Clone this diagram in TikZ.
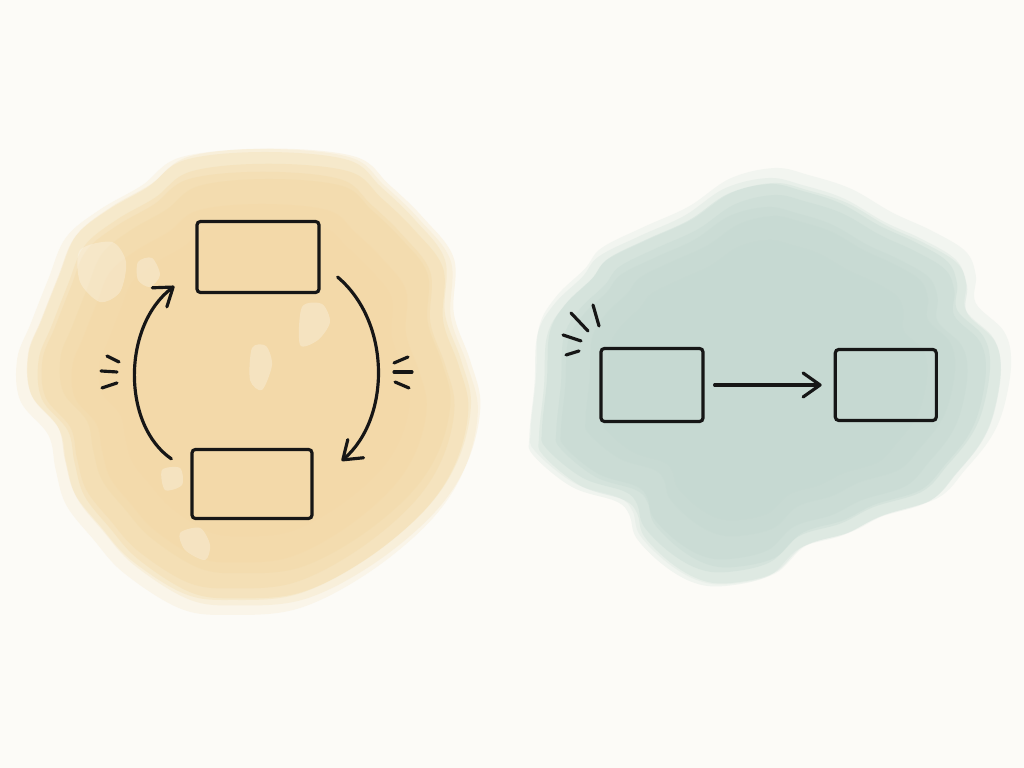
\documentclass[tikz,border=0pt]{standalone}
\usepackage{tikz}
\usetikzlibrary{arrows.meta,positioning,calc}
\definecolor{paper}{HTML}{FCFBF7}
\definecolor{sandcore}{HTML}{F3D8A2}
\definecolor{sagecore}{HTML}{C2D8D0}
\definecolor{ink}{HTML}{161616}

\begin{document}
\begin{tikzpicture}[
    x=0.01cm, y=-0.01cm,
    box/.style={draw=ink, line width=0.9pt, rounded corners=1pt, inner sep=0pt},
    flow/.style={draw=ink, line width=0.9pt, line cap=round, -{Straight Barb[length=1.7mm,width=2.4mm,round]}},
    tick/.style={draw=ink, line width=0.9pt, line cap=round},
    speck/.style={fill=paper, opacity=0.3}
  ]
    \fill[paper] (0,0) rectangle (1024,768);
    \useasboundingbox (0,0) rectangle (1024,768);

    \foreach \s/\o/\dx/\dy in {1.04/0.16/-4/3, 1.02/0.2/3/-2, 1.0/0.25/-2/-3, 0.97/0.3/2/2,
        0.93/0.3/-3/1, 0.88/0.3/4/-3, 0.8/0.25/-2/4, 0.7/0.2/3/0} {
      \begin{scope}[shift={(252+\dx,380+\dy)}, scale=\s, shift={(-252,-380)}]
        \fill[sandcore, opacity=\o] plot[smooth cycle, tension=0.6] coordinates {
          (150,190) (187,163) (267,155) (350,163) (383,190) (417,223) (447,263)
          (447,317) (463,363) (473,407) (460,463) (427,513) (367,563) (300,597)
          (235,603) (187,597) (133,563) (103,530) (77,497) (67,463) (60,430)
          (33,397) (30,357) (43,323) (60,280) (77,240) (110,213)};
      \end{scope}
    }
    \foreach \s/\o/\dx/\dy in {1.04/0.16/3/-4, 1.02/0.2/-3/2, 1.0/0.25/2/3, 0.97/0.3/-2/-2,
        0.93/0.3/3/1, 0.88/0.3/-4/3, 0.8/0.25/2/-4, 0.7/0.2/-3/0} {
      \begin{scope}[shift={(770+\dx,380+\dy)}, scale=\s, shift={(-770,-380)}]
        \fill[sagecore, opacity=\o] plot[smooth cycle, tension=0.6] coordinates {
          (772,180) (805,187) (845,200) (885,223) (922,240) (955,260) (965,283)
          (965,310) (992,337) (999,367) (992,410) (979,440) (955,470) (929,497)
          (879,513) (845,530) (802,543) (772,570) (729,580) (699,577) (669,560)
          (642,533) (635,510) (622,497) (579,483) (541,452) (537,433) (542,383)
          (545,333) (562,303) (589,277) (605,257) (645,237) (689,217) (729,190)};
      \end{scope}
    }

    \fill[speck] plot[smooth cycle] coordinates {(80,250) (112,242) (126,262) (120,292) (100,302) (80,282)};
    \fill[speck] plot[smooth cycle] coordinates {(138,262) (152,258) (160,275) (150,287) (138,280)};
    \fill[speck] plot[smooth cycle] coordinates {(302,307) (322,304) (330,322) (318,340) (300,345)};
    \fill[speck] plot[smooth cycle] coordinates {(252,348) (266,346) (272,365) (262,390) (250,380)};
    \fill[speck] plot[smooth cycle] coordinates {(180,533) (200,528) (210,545) (205,560) (185,550)};
    \fill[speck] plot[smooth cycle] coordinates {(162,470) (180,468) (182,485) (165,490)};

    \node[box, minimum width=12.2mm, minimum height=7.1mm] (top) at (258,257) {};
    \node[box, minimum width=12mm, minimum height=6.9mm] (bot) at (252,484) {};
    \node[box, minimum width=10.2mm, minimum height=7.3mm] (src) at (652,385) {};
    \node[box, minimum width=10.1mm, minimum height=7.1mm, right=12.9mm of src] (dst) {};

    \draw[flow] ($(bot.north west)+(-19,11)$) .. controls (122,425) and (122,326) .. ($(top.south west)+(-21,-8)$);
    \draw[flow] ($(top.south east)+(17,-17)$) .. controls (391,322) and (391,418) .. ($(bot.north east)+(28,13)$);
    \draw[flow, shorten <=1mm, shorten >=1.2mm] (src) -- (dst);

    \foreach \xa/\ya/\xb/\yb in {107/356/119/362, 101/371/117/372, 102/388/117/383,
        394/363/408/357, 394/372/412/372, 395/382/409/388,
        563/335/581/341, 571/313/588/331, 593/305/599/326, 566/355/579/351}
      \draw[tick] (\xa,\ya) -- (\xb,\yb);
  \end{tikzpicture}
\end{document}
